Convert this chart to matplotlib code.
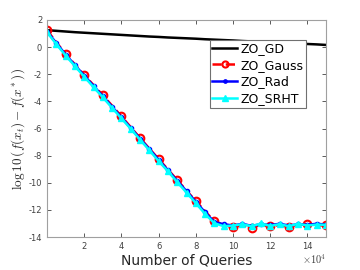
import matplotlib
matplotlib.use("Agg")
import matplotlib.pyplot as plt
import numpy as np

# x in units of 1e4 queries
queries = [0, 0.5, 1, 1.5, 2, 2.5, 3, 3.5, 4, 4.5, 5, 5.5, 6, 6.5, 7, 7.5,
           8, 8.5, 9, 9.5, 10, 10.5, 11, 11.5, 12, 12.5, 13, 13.5, 14, 14.5, 15]

zo_gd = [1.25, 1.20, 1.15, 1.10, 1.06, 1.02, 0.98, 0.94, 0.90, 0.86, 0.82, 0.78,
         0.75, 0.71, 0.68, 0.65, 0.62, 0.58, 0.55, 0.52, 0.49, 0.45, 0.42, 0.39,
         0.36, 0.33, 0.30, 0.27, 0.23, 0.20, 0.16]

zo_gauss = [1.25, 0.35, -0.50, -1.28, -2.05, -2.80, -3.55, -4.32, -5.10, -5.90,
            -6.70, -7.48, -8.25, -9.02, -9.80, -10.58, -11.35, -12.10, -12.85,
            -13.10, -13.28, -13.12, -13.30, -13.10, -13.22, -13.12, -13.25,
            -13.08, -13.05, -13.15, -13.12]

zo_rad = [1.15, 0.30, -0.55, -1.33, -2.10, -2.86, -3.62, -4.40, -5.18, -5.96,
          -6.75, -7.52, -8.30, -9.08, -9.86, -10.62, -11.40, -12.18, -12.90,
          -13.05, -13.15, -13.02, -13.18, -13.05, -13.12, -13.02, -13.15,
          -13.05, -13.10, -13.02, -13.08]

zo_srht = [1.10, 0.22, -0.62, -1.40, -2.18, -2.95, -3.70, -4.48, -5.25, -6.02,
           -6.82, -7.60, -8.40, -9.15, -9.95, -10.72, -11.50, -12.30, -12.98,
           -13.20, -13.15, -13.05, -13.20, -13.00, -13.18, -13.05, -13.20,
           -13.02, -13.15, -13.08, -13.10]

xticks = [2, 4, 6, 8, 10, 12, 14]
yticks = [2, 0, -2, -4, -6, -8, -10, -12, -14]

plt.rcParams['mathtext.fontset'] = 'cm'
fig = plt.figure(figsize=(3.6, 2.7), dpi=100)
ax = fig.add_axes([0.1306, 0.122, 0.775, 0.804])

x = np.array(queries) * 1e4
ax.plot(x, zo_gd, color='black', lw=1.8, label='ZO_GD')
ax.plot(x, zo_gauss, color='red', ls='--', lw=1.8, marker='o', ms=5.5,
        mfc='none', mew=1.5, markevery=2, label='ZO_Gauss')
ax.plot(x, zo_rad, color='blue', lw=1.8, marker='.', ms=6, markevery=1,
        label='ZO_Rad')
ax.plot(x, zo_srht, color='cyan', lw=1.8, marker='^', ms=5, markevery=1,
        label='ZO_SRHT')

ax.set_xlim(0, 15e4)
ax.set_ylim(-14, 2)
ax.set_xticks([t * 1e4 for t in xticks])
ax.set_xticklabels([str(t) for t in xticks])
ax.set_yticks(yticks)
ax.set_yticklabels([str(t) for t in yticks])
ax.tick_params(direction='in', top=True, right=True, labelsize=6,
               colors='#404040', length=3, width=0.6)
for s in ax.spines.values():
    s.set_color('#a0a0a0')
    s.set_linewidth(0.8)

ax.set_xlabel('Number of Queries', fontsize=10, labelpad=2, color='#262626')
ax.set_ylabel(r'$\log 10\,(f(x_t)-f(x^*))$', fontsize=9.5, labelpad=1,
              color='#262626')
ax.text(1.0, -0.07, r'$\times10^4$', transform=ax.transAxes, fontsize=7.5,
        ha='right', va='top', color='#404040')

leg = ax.legend(loc='upper right', bbox_to_anchor=(0.93, 0.91), fontsize=9,
                frameon=True, fancybox=False, framealpha=1, borderpad=0.2,
                labelspacing=0.3, handlelength=2.0, handletextpad=0.3,
                borderaxespad=0, markerscale=0.8)
leg.get_frame().set_edgecolor('#707070')
leg.get_frame().set_linewidth(0.8)

fig.savefig('out.png', dpi=100)
